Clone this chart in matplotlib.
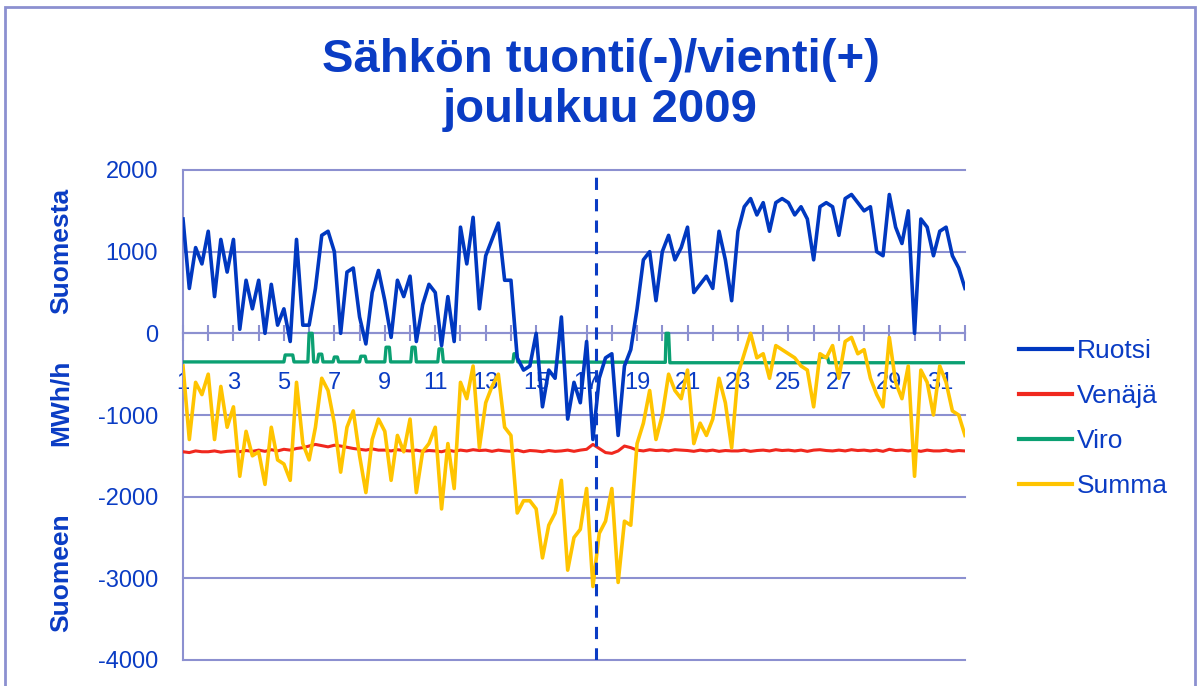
import numpy as np
import matplotlib
matplotlib.use("Agg")
import matplotlib.pyplot as plt
from matplotlib.patches import Rectangle

plt.rcParams['font.family'] = ['Liberation Sans', 'DejaVu Sans']
plt.rcParams['axes.unicode_minus'] = False

ruotsi = [
    1400, 550, 1050, 850,    1250, 450, 1150, 750,    1150, 50, 650, 300,     650, 0, 600, 100,
    300, -100, 1150, 100,    100, 550, 1200, 1250,    1000, 0, 750, 800,      200, -130, 500, 770,
    400, -50, 650, 450,      700, -100, 350, 600,     500, -150, 450, -100,   1300, 850, 1420, 300,
    950, 1150, 1350, 650,    650, -300, -450, -400,   0, -900, -450, -550,    200, -1050, -600, -850,
    -100, -1300, -550, -300, -250, -1250, -400, -200, 300, 900, 1000, 400,    1000, 1200, 900, 1050,
    1300, 500, 600, 700,     550, 1250, 900, 400,     1250, 1550, 1650, 1450, 1600, 1250, 1600, 1650,
    1600, 1450, 1550, 1400,  900, 1550, 1600, 1550,   1200, 1650, 1700, 1600, 1500, 1550, 1000, 950,
    1700, 1300, 1100, 1500,  0, 1400, 1300, 950,      1250, 1300, 950, 800,
    550,
]

venaja = [
    -1450, -1460, -1440, -1450, -1450, -1440, -1455, -1445, -1440, -1450, -1435, -1445,
    -1430, -1445, -1425, -1440, -1420, -1430, -1410, -1400, -1380, -1360, -1375, -1390,
    -1370, -1380, -1395, -1410, -1420, -1430, -1415, -1430, -1430, -1440, -1425, -1435,
    -1440, -1430, -1445, -1435, -1440, -1450, -1430, -1445, -1430, -1440, -1425, -1435,
    -1430, -1445, -1430, -1440, -1445, -1430, -1450, -1435, -1440, -1450, -1435, -1445,
    -1440, -1430, -1445, -1430, -1420, -1360, -1410, -1460, -1470, -1440, -1380, -1400,
    -1430, -1440, -1425, -1435, -1430, -1440, -1425, -1430, -1435, -1445, -1430, -1440,
    -1430, -1445, -1435, -1440, -1440, -1430, -1445, -1435, -1430, -1440, -1425, -1435,
    -1430, -1440, -1430, -1445, -1430, -1425, -1435, -1440, -1430, -1440, -1425, -1435,
    -1430, -1440, -1430, -1445, -1420, -1435, -1430, -1440, -1430, -1445, -1430, -1440,
    -1440, -1430, -1445, -1435,
    -1440,
]

summa = [
    -400, -1300, -600, -750,    -500, -1300, -650, -1150,   -900, -1750, -1200, -1500,
    -1450, -1850, -1150, -1550, -1600, -1800, -600, -1350,  -1550, -1150, -550, -700,
    -1100, -1700, -1150, -950,  -1500, -1950, -1300, -1050, -1200, -1800, -1250, -1450,
    -1050, -1950, -1450, -1350, -1150, -2150, -1350, -1900, -600, -800, -400, -1400,
    -850, -650, -500, -1150,    -1250, -2200, -2050, -2050, -2150, -2750, -2350, -2200,
    -1800, -2900, -2500, -2400, -1900, -3100, -2450, -2300, -1900, -3050, -2300, -2350,
    -1350, -1100, -700, -1300,  -1000, -500, -700, -800,    -450, -1350, -1100, -1250,
    -1050, -550, -850, -1400,   -500, -250, 0, -300,        -250, -550, -150, -200,
    -250, -300, -400, -450,     -900, -250, -300, -150,     -550, -100, -50, -250,
    -200, -550, -750, -900,     -50, -600, -800, -400,      -1750, -450, -600, -1000,
    -400, -600, -950, -1000,
    -1250,
]

# Viro is flat with short steps: (day, value) break points
viro_day = [1, 5.0, 5.05, 5.35, 5.4, 5.95, 6.0, 6.12, 6.18, 6.33, 6.38, 6.5, 6.55,
            6.95, 7.0, 7.12, 7.17, 8.0, 8.05, 8.22, 8.27, 9.0, 9.05, 9.18, 9.23,
            10.03, 10.08, 10.2, 10.25, 11.1, 11.15, 11.27, 11.32, 14.08, 14.12, 14.22, 14.27,
            20.12, 20.15, 20.25, 20.3, 26.2, 26.25, 26.55, 26.6, 32]
viro_val = [-350, -350, -265, -265, -350, -350, 0, 0, -350, -350, -255, -255, -350,
            -350, -290, -290, -350, -350, -280, -280, -350, -350, -170, -170, -350,
            -350, -170, -170, -350, -350, -190, -190, -350, -350, -250, -250, -350,
            -355, 0, 0, -360, -360, -290, -290, -360, -360]

marker_day = 17.36
day_labels = [str(d) for d in range(1, 32, 2)]

TXT = '#0A3CC4'
GRID = '#8C90D0'

fig = plt.figure(figsize=(12.01, 6.86), dpi=100)
ax = fig.add_axes([183 / 1201, 26 / 686, 782 / 1201, 490 / 686])

t = 1 + np.arange(len(ruotsi)) / 4.0
ax.plot(t, ruotsi, color='#0038C0', lw=2.6, label='Ruotsi', zorder=2.4)
ax.plot(t, venaja, color='#F0281E', lw=2.2, label='Venäjä', zorder=2.0)
ax.plot(viro_day, viro_val, color='#0BA072', lw=2.4, label='Viro', zorder=2.1)
ax.plot(t, summa, color='#FFC400', lw=2.6, label='Summa', zorder=2.2)
ax.axvline(marker_day, ymax=0.99, color=TXT, lw=2.2, linestyle=(0, (4, 3)), zorder=3)

ax.set_xlim(1, 32)
ax.set_ylim(-4000, 2000)
ax.set_axisbelow(True)

ax.set_yticks(range(-4000, 2001, 1000))
ax.yaxis.grid(True, color=GRID, lw=1.5)
for gl in ax.get_ygridlines():
    gl.set_clip_on(False)
ax.tick_params(axis='y', length=0, pad=18, labelsize=17, labelcolor=TXT)

ax.set_xticks(range(1, 33))
ax.set_xticklabels([day_labels[(d - 1) // 2] if d % 2 == 1 else '' for d in range(1, 33)])
ax.tick_params(axis='x', direction='inout', length=11, width=1.5, color=GRID,
               pad=22, labelsize=17, labelcolor=TXT)

for side in ['top', 'right']:
    ax.spines[side].set_visible(False)
ax.spines['bottom'].set_position(('data', 0))
for side in ['bottom', 'left']:
    ax.spines[side].set_color(GRID)
    ax.spines[side].set_linewidth(1.5)
    ax.spines[side].set_zorder(0.6)

fig.text(0.5, 1 - 85 / 686, 'Sähkön tuonti(-)/vienti(+)\njoulukuu 2009', ha='center', va='center',
         fontsize=34, fontweight='bold', color=TXT, linespacing=1.18)

for label, yc in [('Suomesta', 251), ('MWh/h', 403), ('Suomeen', 573)]:
    fig.text(61 / 1201, 1 - yc / 686, label, rotation=90, ha='center', va='center',
             fontsize=19, fontweight='bold', color=TXT)

handles, labels = ax.get_legend_handles_labels()
leg = fig.legend(handles, labels, loc='upper left', bbox_to_anchor=(1019 / 1201, 1 - 339 / 686),
                 frameon=False, fontsize=19, handlelength=2.0, handletextpad=0.2,
                 labelspacing=0.8, borderpad=0, borderaxespad=0, labelcolor=TXT)
for line in leg.get_lines():
    line.set_linewidth(3)

fig.patches.append(Rectangle((5 / 1201, -0.05), 1190 / 1201, 1.05 - 7 / 686, transform=fig.transFigure,
                             fill=False, edgecolor=GRID, lw=2))

fig.savefig('out.png', dpi=100)
